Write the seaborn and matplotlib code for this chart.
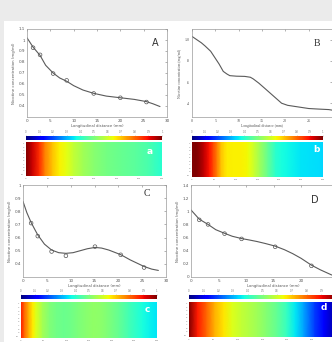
import numpy as np
import matplotlib
matplotlib.use("Agg")
import matplotlib.pyplot as plt
from matplotlib.patches import Rectangle
import seaborn as sns

# ------------------------------------------------------------------
# data (x in mm, y = nicotine concentration)
a_curve_x = [0, 1.3, 2.8, 4, 5.6, 7, 8.5, 10, 12, 14.3, 17, 20, 23, 25.6, 27, 28.5]
a_curve_y = [1.02, 0.935, 0.86, 0.77, 0.70, 0.655, 0.625, 0.585, 0.545, 0.515, 0.49, 0.475, 0.46, 0.44, 0.42, 0.395]
a_pts_x = [1.3, 2.8, 5.6, 8.5, 14.3, 20, 25.6]
a_pts_y = [0.93, 0.865, 0.695, 0.633, 0.514, 0.475, 0.436]

b_curve_x = [0, 1, 2, 2.8, 4, 4.9, 5.8, 6.7, 7.5, 8.1, 9.5, 11.3, 12.5, 13.1, 14.3, 15.6, 17.4, 19.2, 20.5, 22, 25, 27, 29.3, 30]
b_curve_y = [1.03, 1.0, 0.97, 0.94, 0.89, 0.83, 0.77, 0.70, 0.675, 0.66, 0.655, 0.653, 0.645, 0.63, 0.59, 0.54, 0.47, 0.40, 0.38, 0.37, 0.35, 0.345, 0.34, 0.335]

c_curve_x = [0, 0.8, 1.7, 2.5, 3.1, 4.5, 6, 7.5, 9, 10.5, 12, 13.5, 15.1, 16.5, 18, 20.5, 22.5, 25.4, 27, 28.4]
c_curve_y = [0.875, 0.79, 0.715, 0.66, 0.62, 0.55, 0.505, 0.485, 0.48, 0.485, 0.5, 0.515, 0.525, 0.52, 0.505, 0.47, 0.43, 0.38, 0.36, 0.35]
c_pts_x = [1.7, 3.1, 6.0, 9.0, 15.1, 20.5, 25.4]
c_pts_y = [0.71, 0.611, 0.494, 0.461, 0.531, 0.469, 0.372]

d_curve_x = [0, 1.5, 3.1, 4.5, 6.1, 7.5, 9.2, 10.5, 12, 13.5, 15.3, 17, 18.5, 20, 21.9, 23.5, 25.6]
d_curve_y = [1.02, 0.88, 0.80, 0.72, 0.665, 0.62, 0.585, 0.565, 0.54, 0.51, 0.47, 0.415, 0.355, 0.285, 0.18, 0.11, 0.03]
d_pts_x = [1.5, 3.1, 6.1, 9.2, 15.3, 21.9]
d_pts_y = [0.87, 0.80, 0.66, 0.58, 0.46, 0.17]

x_ticks = [0, 5, 10, 15, 20, 25, 30]
cbar_ticks = [0, 0.1, 0.2, 0.3, 0.4, 0.5, 0.6, 0.7, 0.8, 0.9, 1]
cbar_labels = ['0', '0.1', '0.2', '0.3', '0.4', '0.5', '0.6', '0.7', '0.8', '0.9', '1']
strip_xlabels = ['0', '50', '100', '150', '200', '250', '300']
x_label = 'Longitudinal distance (mm)'
y_label = 'Nicotine concentration (mg/ml)'
#-------------------------------------------------------------------
sns.set_style("white")
plt.rcParams['font.family'] = ['DejaVu Sans']

W, H = 332, 342
fig = plt.figure(figsize=(W / 100, H / 100), dpi=100, facecolor='#ebebeb')
fig.patches.append(Rectangle((4 / W, 0), 1, (H - 21) / H, transform=fig.transFigure,
                             facecolor='white', edgecolor='none', zorder=-5))


def box(x0, y0, x1, y1):
    return fig.add_axes([x0 / W, 1 - y1 / H, (x1 - x0) / W, (y1 - y0) / H])


def line_panel(b, cx, cy, px, py, xlim, ylim, yt, ytl, xt=x_ticks, serif=False):
    ax = box(*b)
    sns.lineplot(x=cx, y=cy, ax=ax, color='#5a5a5a', lw=0.8, sort=False)
    if px is not None:
        sns.scatterplot(x=px, y=py, ax=ax, s=7, marker='o', facecolor='none',
                        edgecolor='#555555', linewidth=0.5, zorder=3)
    ax.set_xlim(*xlim)
    ax.set_ylim(*ylim)
    ax.set_xticks(xt)
    ax.set_yticks(yt)
    ax.set_yticklabels(ytl)
    fam = 'Liberation Serif' if serif else 'DejaVu Sans'
    ax.tick_params(direction='in', length=1.5, width=0.4, labelsize=3.0, pad=1.5,
                   colors='#777777', labelcolor='#555555', top=True, right=True)
    for lab in ax.get_xticklabels() + ax.get_yticklabels():
        lab.set_family(fam)
    for s in ax.spines.values():
        s.set_color('#9a9a9a')
        s.set_linewidth(0.5)
    ax.set_xlabel(x_label, fontsize=2.7, color='#555555', labelpad=1, family=fam)
    ax.set_ylabel(y_label, fontsize=2.8, color='#555555', labelpad=2, family=fam)
    return ax


def strip_panel(bbar, bmap, cx, cy, nlab=7, nbar=11):
    ax = box(*bmap)
    vals = np.vstack([cy, cy])
    mesh = ax.pcolormesh(cx, [0, 1], vals, shading='gouraud', cmap='jet', vmin=0, vmax=1)
    ax.set_xlim(cx[0], cx[-1])
    ax.set_ylim(1, 0)
    ax.set_xticks(np.linspace(cx[0], cx[-1], 7)[:nlab])
    ax.set_xticklabels(strip_xlabels[:nlab])
    ax.set_yticks(np.linspace(0.05, 0.95, 10))
    ax.set_yticklabels([str(i) for i in range(1, 11)])
    ax.tick_params(length=0.8, width=0.3, labelsize=1.6, pad=0.8, colors='#777777')
    for s in ax.spines.values():
        s.set_visible(False)
    cax = box(*bbar)
    cb = fig.colorbar(mesh, cax=cax, orientation='horizontal', ticks=cbar_ticks[:nbar])
    cb.set_ticklabels(cbar_labels[:nbar])
    cb.outline.set_visible(False)
    cax.xaxis.set_ticks_position('top')
    cax.tick_params(length=0.6, width=0.3, labelsize=1.8, pad=0.5, colors='#777777')
    return ax


# A
line_panel((27, 29, 167, 117), a_curve_x, a_curve_y, a_pts_x, a_pts_y, (0, 30), (0.3, 1.1),
           [0.4, 0.5, 0.6, 0.7, 0.8, 0.9, 1, 1.1], ['0.4', '0.5', '0.6', '0.7', '0.8', '0.9', '1', '1.1'])
strip_panel((26, 136, 162, 140), (26, 142, 162, 176), a_curve_x, a_curve_y)
# B
line_panel((192, 29, 332, 117), b_curve_x, b_curve_y, None, None, (0, 30), (0.27, 1.1),
           [0.4, 0.6, 0.8, 1.0], ['.4', '.6', '.8', '1.0'], xt=x_ticks[:-1], serif=True)
strip_panel((192, 136, 323, 140), (192, 142, 323, 177), b_curve_x, b_curve_y)
# C
line_panel((23, 185, 166, 277), c_curve_x, c_curve_y, c_pts_x, c_pts_y, (0, 30), (0.3, 1.0),
           [0.4, 0.5, 0.6, 0.7, 0.8, 0.9, 1], ['0.4', '0.5', '0.6', '0.7', '0.8', '0.9', '1'])
strip_panel((21, 295, 157, 299), (21, 302, 157, 338), c_curve_x, c_curve_y)
# D
line_panel((191, 185, 356, 277), d_curve_x, d_curve_y, d_pts_x, d_pts_y, (0, 30), (0, 1.4),
           [0, 0.2, 0.4, 0.6, 0.8, 1, 1.2, 1.4], ['0', '0.2', '0.4', '0.6', '0.8', '1', '1.2', '1.4'],
           xt=x_ticks[:-2])
strip_panel((189, 295, 336, 299), (189, 302, 336, 337), d_curve_x, d_curve_y, nlab=6, nbar=10)

# panel letters
for x, y, t, fam in [(155, 43, 'A', 'DejaVu Sans'), (317, 43, 'B', 'Liberation Serif'),
                     (147, 194, 'C', 'Liberation Serif'), (315, 200, 'D', 'DejaVu Sans')]:
    fig.text(x / W, 1 - y / H, t, fontsize=7, color='#333333', family=fam, ha='center', va='center')
for x, y, t in [(150, 152, 'a'), (316, 150, 'b'), (147, 310, 'c'), (324, 308, 'd')]:
    fig.text(x / W, 1 - y / H, t, fontsize=6.5, color='white', weight='bold', ha='center', va='center')

fig.savefig('out.png', dpi=100, facecolor=fig.get_facecolor())
